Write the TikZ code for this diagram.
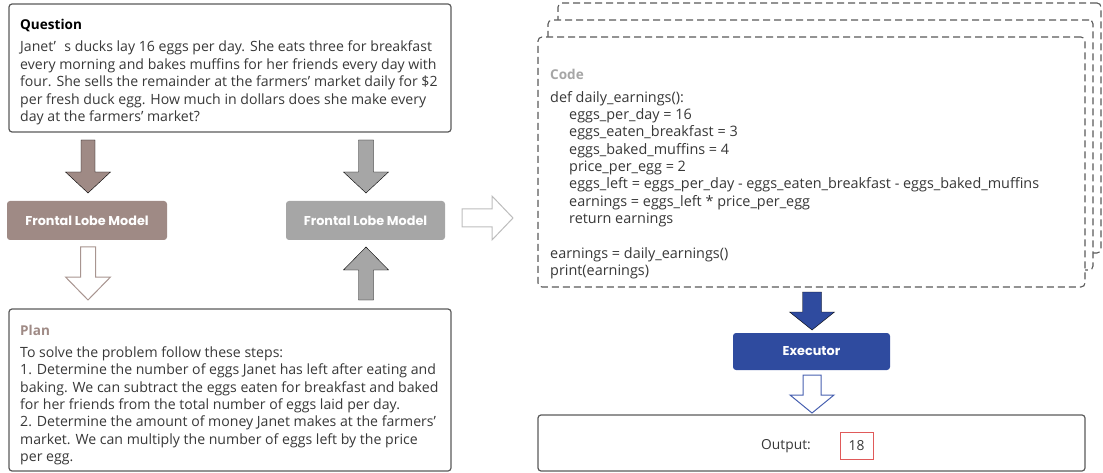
\documentclass[tikz,border=0pt]{standalone}
\usepackage{fontspec}
\setmainfont{Open Sans}
\newfontfamily\flmfont{Poppins}
\definecolor{boxline}{HTML}{5A5A5A}
\definecolor{txtc}{HTML}{383838}
\definecolor{brownc}{HTML}{9F8A85}
\definecolor{brownl}{HTML}{A89590}
\definecolor{grayc}{HTML}{A6A6A6}
\definecolor{grayl}{HTML}{BDBDBD}
\definecolor{bluec}{HTML}{2F4B9F}
\definecolor{bluel}{HTML}{4760B0}
\definecolor{redc}{HTML}{E05A5A}
\newcommand{\vblock}[7]{\draw[#1] ({#2-#5},#3) -- ({#2+#5},#3) -- ({#2+#5},#4) -- ({#2+#6},#4) -- (#2,#7) -- ({#2-#6},#4) -- ({#2-#5},#4) -- cycle;}
\newcommand{\hblock}[7]{\draw[#1] (#3,{#2-#5}) -- (#4,{#2-#5}) -- (#4,{#2-#6}) -- (#7,#2) -- (#4,{#2+#6}) -- (#4,{#2+#5}) -- (#3,{#2+#5}) -- cycle;}
\newcommand{\ind}{\hspace*{19pt}}
\tikzset{
  box/.style={draw=boxline, line width=1.2pt, rounded corners=3pt, fill=white, inner sep=0pt},
  dbox/.style={draw=boxline, line width=1.1pt, rounded corners=4pt, fill=white, dash pattern=on 7pt off 4pt, inner sep=0pt},
  model/.style={rounded corners=3pt, inner sep=0pt, text=white, font=\flmfont\bfseries\fontsize{12.8}{14}\selectfont},
  txt/.style={anchor=north west, inner sep=0pt, align=left, text=txtc, font=\fontsize{14.1}{17.4}\selectfont},
  ctxt/.style={anchor=north west, inner sep=0pt, align=left, text=txtc, font=\fontsize{14.4}{17.35}\selectfont},
}
\begin{document}
\begin{tikzpicture}[x=1pt,y=-1pt]
\useasboundingbox (0,0) rectangle (1103,473);
% left column
\node[box, minimum width=442pt, minimum height=128pt] (q) at (230,68) {};
\node[txt] (qtext) at (20,19.5) {{\color{black}\bfseries\fontsize{13.55}{17.4}\selectfont Question}\\[4.6pt]
Janet’\hspace{0.6em}s ducks lay 16 eggs per day. She eats three for breakfast\\
every morning and bakes muffins for her friends every day with\\
four. She sells the remainder at the farmers' market daily for \$2\\
per fresh duck egg. How much in dollars does she make every\\
day at the farmers' market?};
\node[box, minimum width=442pt, minimum height=162pt] (p) at (230,390) {};
\node[txt] (ptext) at (20,325) {{\color{brownc}\bfseries\fontsize{13.55}{17.4}\selectfont Plan}\\[4.4pt]
To solve the problem follow these steps:\\
1. Determine the number of eggs Janet has left after eating and\\
baking. We can subtract the eggs eaten for breakfast and baked\\
for her friends from the total number of eggs laid per day.\\
2. Determine the amount of money Janet makes at the farmers'\\
market. We can multiply the number of eggs left by the price\\
per egg.};
\node[model, fill=brownc, minimum width=160pt, minimum height=39pt] (m1) at (87,220.5) {Frontal Lobe Model};
\node[model, fill=grayc, minimum width=159pt, minimum height=39pt] (m2) at (365.5,220.5) {Frontal Lobe Model};
% block arrows
\vblock{fill=brownc}{88}{140}{172}{7}{22.5}{193}
\vblock{fill=white, draw=brownl, line width=1pt}{88}{247}{277}{7.5}{22.5}{300}
\vblock{fill=grayc}{366}{140}{172}{7.5}{22.5}{193}
\vblock{fill=grayc}{366}{300}{270}{7.5}{22.5}{247}
\hblock{fill=white, draw=grayl, line width=1pt}{218}{462}{492}{9}{22}{513}
% code stack
\node[dbox, minimum width=543pt, minimum height=250pt] (c3) at (829.5,128) {};
\node[dbox, minimum width=545pt, minimum height=250pt] (c2) at (820.5,145) {};
\node[dbox, minimum width=547pt, minimum height=250pt] (c1) at (811.5,162) {};
\node[txt] (ctitle) at (550,69.5) {\color{grayc}\bfseries\fontsize{13.55}{17.4}\selectfont Code};
\node[ctxt] (ctext) at (550,91) {def daily\_earnings():\\
\ind eggs\_per\_day = 16\\
\ind eggs\_eaten\_breakfast = 3\\
\ind eggs\_baked\_muffins = 4\\
\ind price\_per\_egg = 2\\
\ind eggs\_left = eggs\_per\_day - eggs\_eaten\_breakfast - eggs\_baked\_muffins\\
\ind earnings = eggs\_left * price\_per\_egg\\
\ind return earnings\\
\mbox{}\\
earnings = daily\_earnings()\\
print(earnings)};
\vblock{fill=bluec}{812}{292}{312}{9.5}{22.5}{330}
\node[model, fill=bluec, minimum width=157pt, minimum height=37pt] (ex) at (811.5,351.5) {Executor};
\vblock{fill=white, draw=bluel, line width=1pt}{812}{375}{395}{9}{22}{413}
\node[box, minimum width=547pt, minimum height=56pt] (out) at (811.5,443) {};
\node[inner sep=0pt, text=txtc, font=\fontsize{13.8}{15}\selectfont] (olab) at (786,446) {Output:};
\node[draw=redc, line width=1pt, minimum width=33pt, minimum height=27pt, inner sep=0pt, text=txtc, font=\fontsize{13.8}{15}\selectfont] (val) at (856.5,445.5) {18};
\end{tikzpicture}
\end{document}
